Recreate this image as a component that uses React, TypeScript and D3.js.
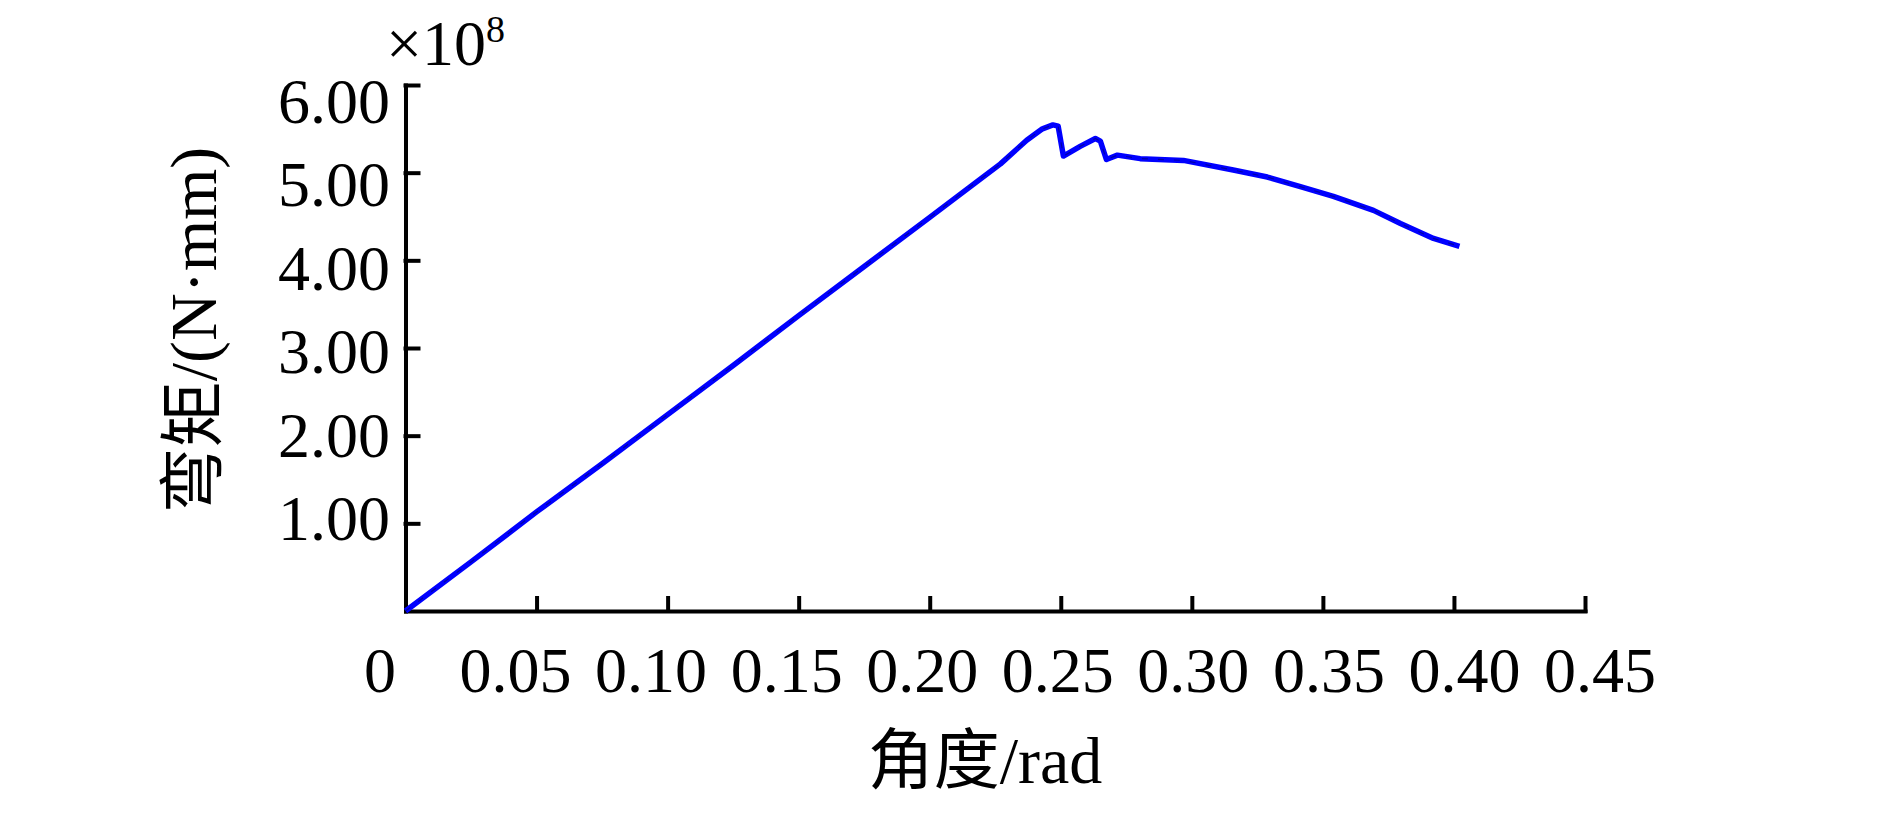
import React, { useEffect, useRef } from "react";
import * as d3 from "d3";

// 角度 (rad) and 弯矩 (×10^8 N·mm)
const angle = [
  0, 0.025, 0.05, 0.075, 0.1, 0.125, 0.15, 0.175, 0.2, 0.215, 0.227, 0.237,
  0.243, 0.247, 0.249, 0.251, 0.2574, 0.2632, 0.2651, 0.2674, 0.2716, 0.2803,
  0.2968, 0.3158, 0.3288, 0.3414, 0.354, 0.3693, 0.3796, 0.3922, 0.4021,
];
const moment = [
  0, 0.56, 1.13, 1.68, 2.24, 2.8, 3.37, 3.93, 4.49, 4.83, 5.1, 5.37, 5.5,
  5.545, 5.53, 5.19, 5.3, 5.39, 5.36, 5.15, 5.2, 5.16, 5.14, 5.03, 4.95, 4.84,
  4.73, 4.57, 4.42, 4.25, 4.16,
];

const xTicks = [0, 0.05, 0.1, 0.15, 0.2, 0.25, 0.3, 0.35, 0.4, 0.45];
const xTickLabels = ["0", "0.05", "0.10", "0.15", "0.20", "0.25", "0.30", "0.35", "0.40", "0.45"];
const yTicks = [1, 2, 3, 4, 5, 6];
const yTickLabels = ["1.00", "2.00", "3.00", "4.00", "5.00", "6.00"];

const FONT = '"Liberation Serif", "Times New Roman", "Noto Sans CJK SC", serif';

export default function App() {
  const ref = useRef<SVGSVGElement>(null);

  useEffect(() => {
    const svg = d3.select(ref.current);
    svg.selectAll("*").remove();

    const x = d3.scaleLinear().domain([0, 0.45]).range([405.5, 1585]);
    const y = d3.scaleLinear().domain([0, 6]).range([611, 85]);
    // tick labels sit a little wider apart than the ticks in the original
    const xLab = d3.scaleLinear().domain([0, 0.45]).range([380, 1600]);
    const yLab = d3.scaleLinear().domain([1, 6]).range([540, 123]);

    // x axis, ticks pointing inward
    svg
      .append("g")
      .attr("transform", `translate(0,${y(0)})`)
      .call(
        d3
          .axisBottom(x)
          .tickValues(xTicks.slice(1))
          .tickSizeInner(-13)
          .tickSizeOuter(0)
          .tickFormat(() => "")
      );
    // y axis
    svg
      .append("g")
      .attr("transform", `translate(${x(0)},0)`)
      .call(
        d3
          .axisLeft(y)
          .tickValues(yTicks)
          .tickSizeInner(-13)
          .tickSizeOuter(0)
          .tickFormat(() => "")
      );
    svg
      .selectAll("g path.domain, g .tick line")
      .attr("stroke", "#000")
      .attr("stroke-width", 4)
      .attr("stroke-linecap", "square");

    // curve
    const line = d3
      .line<number>()
      .x((d, i) => x(angle[i]))
      .y((d) => y(d));
    svg
      .append("path")
      .datum(moment)
      .attr("fill", "none")
      .attr("stroke", "#0000ff")
      .attr("stroke-width", 5.5)
      .attr("stroke-linejoin", "round")
      .attr("d", line);
    svg
      .append("path")
      .datum(moment)
      .attr("fill", "none")
      .attr("stroke", "#000")
      .attr("stroke-opacity", 0.35)
      .attr("stroke-width", 1.2)
      .attr("stroke-dasharray", "6 10")
      .attr("d", line);

    // tick labels
    svg
      .append("g")
      .selectAll("text")
      .data(xTicks)
      .join("text")
      .attr("x", (d) => xLab(d))
      .attr("y", 692)
      .attr("text-anchor", "middle")
      .attr("font-family", FONT)
      .attr("font-size", 64)
      .text((d, i) => xTickLabels[i]);
    svg
      .append("g")
      .selectAll("text")
      .data(yTicks)
      .join("text")
      .attr("x", 390)
      .attr("y", (d) => yLab(d))
      .attr("text-anchor", "end")
      .attr("font-family", FONT)
      .attr("font-size", 64)
      .text((d, i) => yTickLabels[i]);

    // multiplier
    const mult = svg
      .append("text")
      .attr("x", 386)
      .attr("y", 65)
      .attr("font-family", FONT)
      .attr("font-size", 64);
    mult.append("tspan").text("×10");
    mult.append("tspan").attr("font-size", 38).attr("dy", -23).text("8");

    // axis titles
    svg
      .append("text")
      .attr("x", 985)
      .attr("y", 783)
      .attr("text-anchor", "middle")
      .attr("font-family", FONT)
      .attr("font-size", 66)
      .text("角度/rad");
    svg
      .append("text")
      .attr("transform", "translate(193,330) rotate(-90)")
      .attr("dy", "0.35em")
      .attr("text-anchor", "middle")
      .attr("font-family", FONT)
      .attr("font-size", 66)
      .text("弯矩/(N·mm)");
  }, []);

  return (
    <div style={{ position: "absolute", left: 0, top: 0 }}>
      <svg ref={ref} width={1890} height={827} style={{ display: "block", background: "#fff" }} />
    </div>
  );
}
